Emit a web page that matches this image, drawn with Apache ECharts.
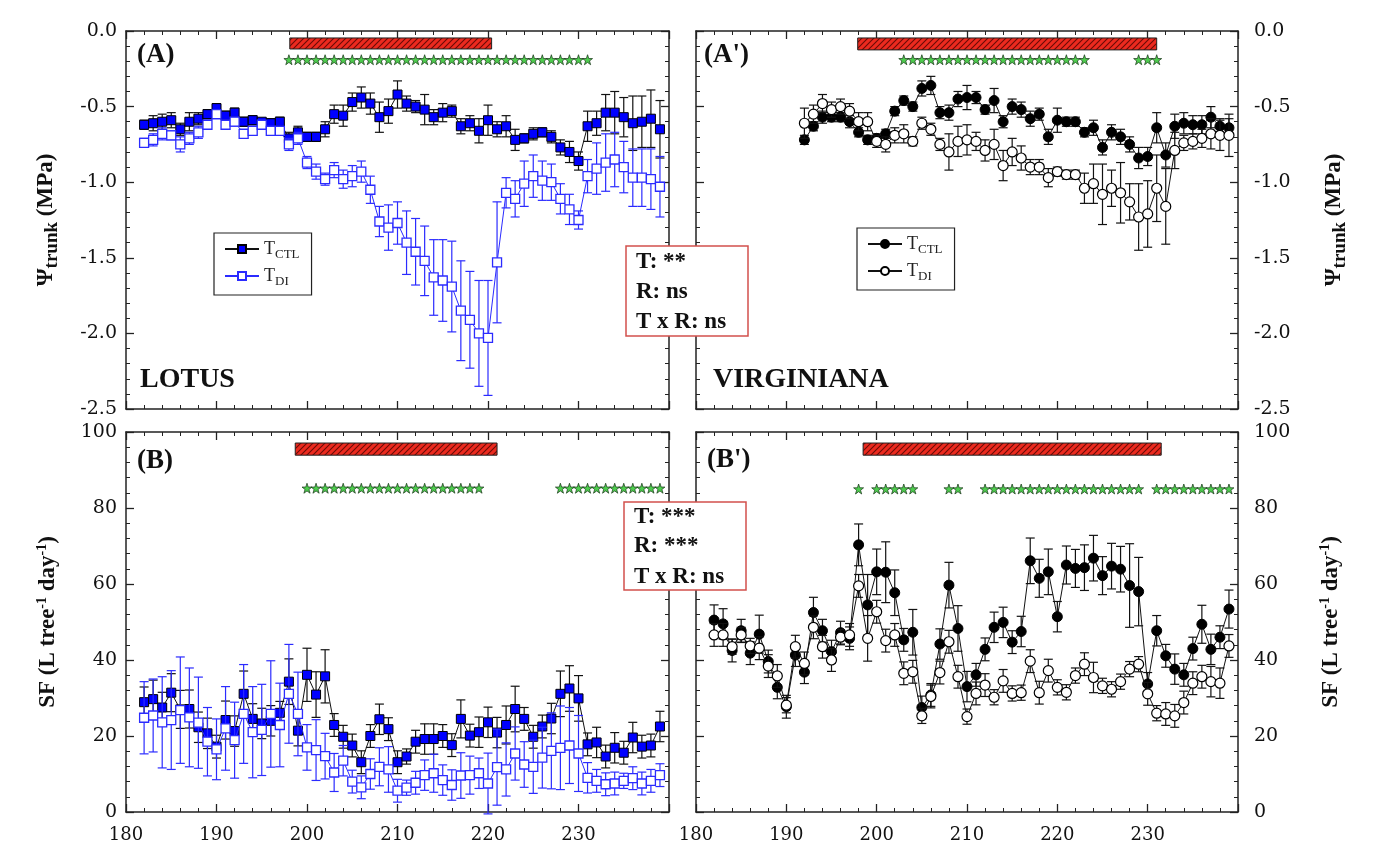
<!DOCTYPE html>
<html>
<head>
<meta charset="utf-8">
<title>Trunk water potential and sap flow - Lotus / Virginiana</title>
<script src="https://cdn.jsdelivr.net/npm/echarts/dist/echarts.min.js"></script>
<style>
  html, body { margin: 0; padding: 0; background: #fff; }
  #chart { width: 1400px; height: 855px; }
</style>
</head>
<body>
<div id="chart"></div>
<script>
// day of year
var daysAll = [182,183,184,185,186,187,188,189,190,191,192,193,194,195,196,197,198,199,200,201,
  202,203,204,205,206,207,208,209,210,211,212,213,214,215,216,217,218,219,220,221,
  222,223,224,225,226,227,228,229,230,231,232,233,234,235,236,237,238,239];
var daysVirgPsi = [192,193,194,195,196,197,198,199,200,201,202,203,204,205,206,207,208,209,210,211,
  212,213,214,215,216,217,218,219,220,221,222,223,224,225,226,227,228,229,230,231,
  232,233,234,235,236,237,238,239];

// (A) Lotus, trunk water potential (MPa)
var psiLotusCtl = [-0.62,-0.61,-0.60,-0.59,-0.65,-0.60,-0.58,-0.55,-0.51,-0.56,
  -0.54,-0.60,-0.59,-0.60,-0.61,-0.60,-0.71,-0.67,-0.70,-0.70,
  -0.65,-0.55,-0.56,-0.47,-0.44,-0.48,-0.57,-0.53,-0.42,-0.48,
  -0.50,-0.52,-0.57,-0.54,-0.53,-0.63,-0.61,-0.66,-0.59,-0.65,
  -0.63,-0.72,-0.71,-0.68,-0.67,-0.70,-0.77,-0.80,-0.86,-0.63,
  -0.61,-0.54,-0.54,-0.57,-0.61,-0.60,-0.58,-0.65];
var psiLotusCtlErr = [0.03,0.05,0.05,0.05,0.04,0.06,0.04,0.03,0.03,0.03,
  0.03,0.03,0.03,0.02,0.03,0.03,0.04,0.04,0.03,0.03,
  0.05,0.06,0.07,0.06,0.07,0.07,0.10,0.08,0.09,0.05,
  0.04,0.10,0.05,0.06,0.04,0.05,0.05,0.08,0.10,0.05,
  0.07,0.07,0.03,0.04,0.03,0.04,0.05,0.07,0.06,0.10,
  0.08,0.12,0.14,0.13,0.18,0.17,0.19,0.19];
var psiLotusDi = [-0.74,-0.72,-0.68,-0.69,-0.75,-0.71,-0.67,-0.62,-0.55,-0.62,
  -0.60,-0.68,-0.66,-0.62,-0.66,-0.66,-0.75,-0.71,-0.87,-0.93,
  -0.98,-0.92,-0.98,-0.96,-0.93,-1.05,-1.26,-1.30,-1.27,-1.40,
  -1.46,-1.52,-1.63,-1.65,-1.69,-1.85,-1.91,-2.00,-2.03,-1.53,
  -1.07,-1.11,-1.01,-0.96,-0.99,-1.00,-1.11,-1.18,-1.25,-0.96,
  -0.91,-0.87,-0.85,-0.90,-0.97,-0.97,-0.98,-1.03];
var psiLotusDiErr = [0.03,0.04,0.04,0.03,0.05,0.04,0.04,0.03,0.03,0.03,
  0.03,0.03,0.03,0.03,0.03,0.03,0.04,0.04,0.04,0.05,
  0.04,0.05,0.06,0.07,0.07,0.09,0.10,0.15,0.14,0.21,
  0.22,0.23,0.25,0.27,0.30,0.33,0.32,0.35,0.38,0.40,
  0.10,0.12,0.15,0.14,0.13,0.12,0.10,0.10,0.06,0.11,
  0.17,0.19,0.18,0.17,0.19,0.19,0.20,0.20];

// (A') Virginiana, trunk water potential (MPa)
var psiVirgCtl = [-0.72,-0.63,-0.57,-0.57,-0.57,-0.60,-0.67,-0.72,-0.71,-0.68,
  -0.53,-0.46,-0.50,-0.38,-0.36,-0.54,-0.54,-0.45,-0.44,-0.44,
  -0.52,-0.46,-0.60,-0.50,-0.52,-0.58,-0.55,-0.70,-0.59,-0.60,
  -0.60,-0.67,-0.64,-0.77,-0.67,-0.70,-0.75,-0.84,-0.83,-0.64,
  -0.82,-0.63,-0.61,-0.62,-0.62,-0.57,-0.63,-0.64];
var psiVirgCtlErr = [0.03,0.03,0.04,0.03,0.03,0.04,0.03,0.03,0.03,0.03,
  0.03,0.03,0.03,0.05,0.06,0.04,0.05,0.05,0.08,0.04,
  0.03,0.08,0.04,0.05,0.05,0.05,0.04,0.05,0.08,0.03,
  0.03,0.03,0.05,0.05,0.05,0.05,0.05,0.07,0.06,0.10,
  0.08,0.08,0.07,0.06,0.06,0.07,0.05,0.06];
var psiVirgDi = [-0.61,-0.55,-0.48,-0.52,-0.50,-0.53,-0.60,-0.60,-0.73,-0.75,
  -0.69,-0.68,-0.73,-0.61,-0.65,-0.75,-0.80,-0.73,-0.72,-0.73,
  -0.79,-0.75,-0.89,-0.80,-0.84,-0.90,-0.90,-0.97,-0.93,-0.95,
  -0.95,-1.04,-1.01,-1.08,-1.04,-1.07,-1.13,-1.23,-1.21,-1.04,
  -1.16,-0.79,-0.74,-0.73,-0.71,-0.68,-0.69,-0.69];
var psiVirgDiErr = [0.10,0.06,0.06,0.05,0.05,0.05,0.06,0.06,0.04,0.05,
  0.05,0.06,0.03,0.04,0.04,0.04,0.12,0.10,0.10,0.06,
  0.07,0.10,0.10,0.09,0.08,0.05,0.05,0.06,0.03,0.03,
  0.03,0.10,0.13,0.20,0.12,0.20,0.12,0.22,0.22,0.22,
  0.25,0.12,0.05,0.05,0.06,0.10,0.10,0.14];

// (B) Lotus, sap flow (L tree-1 day-1)
var sfLotusCtl = [28.9,29.7,27.5,31.4,27.0,27.1,22.3,20.7,17.2,24.2,
  21.3,31.1,24.5,23.3,24.0,26.1,34.3,21.4,36.1,30.9,
  35.7,22.9,19.8,17.5,13.1,20.0,24.4,21.8,13.1,14.6,
  18.5,19.2,19.2,20.0,17.6,24.5,20.1,21.0,23.6,20.9,
  22.9,27.1,24.5,19.8,22.5,24.6,31.1,32.5,29.9,17.8,
  18.3,14.6,16.9,15.6,19.6,17.2,17.5,22.5];
var sfLotusCtlErr = [4,5,4,5,5,5,4,4,3,5, 4,6,4,4,4,3,6,4,7,6, 7,3,3,3,3,3,4,3,3,2,
  3,4,4,3,3,5,3,4,4,4, 5,6,3,3,3,4,6,6,6,3, 4,3,4,3,4,3,3,4];
var sfLotusDi = [24.8,25.4,23.6,24.2,26.8,24.9,23.5,18.5,16.5,22.0,
  18.9,25.8,21.0,21.6,25.8,22.9,31.1,25.8,17.0,16.3,
  14.7,10.4,13.5,8.0,6.5,10.0,11.9,11.2,5.6,6.4,
  7.7,9.7,10.2,8.4,7.1,9.6,9.7,10.2,7.5,11.8,
  11.2,15.4,12.5,11.9,14.3,16.1,16.9,17.5,15.4,9.0,
  8.2,7.3,7.5,8.2,8.9,7.5,8.2,9.7];
var sfLotusDiErr = [9.5,9.6,12,13,14,13,12,9,8,11, 10,13,12,12,14,11,13,11,6,8, 6,5,4,3,3,4,5,6,3,2,
  3,4,5,4,4,6,5,4,8,10, 7,7,6,7,8,10,11,10,10,4, 3,3,3,2,3,3,3,3];

// (B') Virginiana, sap flow (L tree-1 day-1)
var sfVirgCtl = [50.5,49.5,42.5,47.7,41.8,46.8,39.6,32.8,27.7,41.3,
  36.8,52.5,47.7,42.2,47.2,45.7,70.3,54.5,63.2,63.1,
  57.7,45.3,47.3,27.5,30.8,44.2,59.7,48.3,33.0,36.1,
  42.8,48.6,49.9,44.7,47.5,66.1,61.5,63.2,51.4,65.0,
  64.1,64.3,66.8,62.2,64.7,63.9,59.6,58.0,33.7,47.7,
  41.1,37.6,36.1,43.0,49.4,42.8,46.0,53.4];
var sfVirgCtlErr = [4,4,3,3,3,5,3,3,3,3, 3,4,3,3,3,3,5.5,8,6,8, 6,3,6,3,3,4,6,6,4,3,
  3,4,4,3,4,6,5,6,4,5, 5,6,6,5,6,6,11,9,3,4, 3,4,3,3,5,4,3,5];
var sfVirgDi = [46.6,46.6,43.5,46.6,43.7,43.1,38.4,35.8,28.1,43.5,
  39.1,48.6,43.5,40.0,46.0,46.6,59.5,45.7,52.7,45.1,
  46.6,36.5,36.9,25.3,30.4,36.7,44.8,35.6,25.1,31.2,
  33.4,30.2,34.5,31.2,31.4,39.7,31.4,37.2,32.8,31.5,
  35.9,38.9,35.4,33.2,32.3,34.3,37.6,38.9,31.1,26.0,
  25.8,25.3,28.8,33.9,35.6,34.3,33.9,43.7];
var sfVirgDiErr = [3,3,2,2,2,3,3,3,2,3, 3,3,3,3,2,3,3,6,3,3, 3,3,3,2,3,3,3,3,2,3,
  3,2,3,2,2,3,3,3,2,2, 2,3,4,2,2,2,2,2,3,2, 3,3,3,3,3,4,4,3];

// days with significant difference (stars)
var starsPsiLotus = [198,199,200,201,202,203,204,205,206,207,208,209,210,211,212,213,214,215,216,217,
  218,219,220,221,222,223,224,225,226,227,228,229,230,231];
var starsPsiVirg = [203,204,205,206,207,208,209,210,211,212,213,214,215,216,217,218,219,220,221,222,223,
  229,230,231];
var starsSfLotus = [200,201,202,203,204,205,206,207,208,209,210,211,212,213,214,215,216,217,218,219,
  228,229,230,231,232,233,234,235,236,237,238,239];
var starsSfVirg = [198,200,201,202,203,204,208,209,212,213,214,215,216,217,218,219,220,221,222,223,
  224,225,226,227,228,229,231,232,233,234,235,236,237,238,239];

// deficit-irrigation period (start day, end day)
var droughtPsiLotus = [198.1, 220.4];
var droughtPsiVirg = [197.9, 231.0];
var droughtSfLotus = [198.7, 221.0];
var droughtSfVirg = [198.5, 231.5];

var SERIF = 'DejaVu Serif';
var BOLD = 'Liberation Serif';
var STAR = 'path://M10,0 L12.4,7.2 L20,7.3 L13.9,11.8 L16.2,19 L10,14.6 L3.8,19 L6.1,11.8 L0,7.3 L7.6,7.2 Z';

// hatch pattern for the red bars
var hatch = document.createElement('canvas');
hatch.width = 6; hatch.height = 6;
var hc = hatch.getContext('2d');
hc.fillStyle = '#ec2a1f'; hc.fillRect(0, 0, 6, 6);
hc.strokeStyle = '#6a0b07'; hc.lineWidth = 1.1;
hc.beginPath();
hc.moveTo(0, 6); hc.lineTo(6, 0);
hc.moveTo(-1, 1); hc.lineTo(1, -1);
hc.moveTo(5, 7); hc.lineTo(7, 5);
hc.stroke();

function pairs(days, vals) {
  return days.map(function (d, i) { return [d, vals[i]]; });
}
function ranges(days, vals, err) {
  return days.map(function (d, i) { return [d, vals[i] - err[i], vals[i] + err[i]]; });
}
function errRender(color) {
  return function (params, api) {
    var top = api.coord([api.value(0), api.value(2)]);
    var bot = api.coord([api.value(0), api.value(1)]);
    var w = 4.5;
    var st = { stroke: color, lineWidth: 1.2 };
    return {
      type: 'group',
      children: [
        { type: 'line', shape: { x1: top[0], y1: top[1], x2: bot[0], y2: bot[1] }, style: st },
        { type: 'line', shape: { x1: top[0] - w, y1: top[1], x2: top[0] + w, y2: top[1] }, style: st },
        { type: 'line', shape: { x1: bot[0] - w, y1: bot[1], x2: bot[0] + w, y2: bot[1] }, style: st }
      ]
    };
  };
}
function barRender(params, api) {
  var a = api.coord([api.value(0), api.value(3)]);
  var b = api.coord([api.value(1), api.value(2)]);
  return {
    type: 'rect',
    shape: { x: a[0], y: a[1], width: b[0] - a[0], height: b[1] - a[1] },
    style: { fill: { image: hatch, repeat: 'repeat' }, stroke: '#222', lineWidth: 1 }
  };
}

// axes: each grid gets bottom/top x and left/right y so the frame has ticks all round
function xAx(g, pos, labels) {
  return {
    type: 'value', gridIndex: g, position: pos, min: 180, max: 240, interval: 10,
    axisLine: { show: true, onZero: false, lineStyle: { color: '#222', width: 1.5 } },
    axisTick: { show: true, inside: true, length: 8, lineStyle: { color: '#222', width: 1.3 } },
    minorTick: { show: true, splitNumber: 5, length: 4, lineStyle: { color: '#222', width: 1 } },
    splitLine: { show: false },
    axisLabel: {
      show: labels, margin: 14, fontFamily: SERIF, fontSize: 18, color: '#111',
      formatter: function (v) { return v === 240 ? '' : String(v); }
    }
  };
}
var psiName = '{a|Ψ}{s|trunk}{a| (MPa)}';
var sfName = '{a|SF (L tree}{p|-1}{a| day}{p|-1}{a|)}';
var nameRich = {
  a: { fontFamily: BOLD, fontWeight: 'bold', fontSize: 23, color: '#111' },
  s: { fontFamily: BOLD, fontWeight: 'bold', fontSize: 19, color: '#111', padding: [13, 0, 0, 0] },
  p: { fontFamily: BOLD, fontWeight: 'bold', fontSize: 14, color: '#111', padding: [0, 0, 13, 0] }
};
function yAx(g, pos, psi, labels, name, gap) {
  var ax = {
    type: 'value', gridIndex: g, position: pos,
    min: psi ? -2.5 : 0, max: psi ? 0 : 100, interval: psi ? 0.5 : 20,
    axisLine: { show: true, onZero: false, lineStyle: { color: '#222', width: 1.5 } },
    axisTick: { show: true, inside: true, length: 8, lineStyle: { color: '#222', width: 1.3 } },
    minorTick: { show: true, splitNumber: 5, length: 4, lineStyle: { color: '#222', width: 1 } },
    splitLine: { show: false },
    axisLabel: {
      show: labels, margin: pos === 'left' ? 9 : 16, fontFamily: SERIF, fontSize: 19, color: '#111',
      formatter: psi ? function (v) { return v.toFixed(1); } : '{value}'
    }
  };
  if (name) {
    ax.name = name;
    ax.nameLocation = 'middle';
    ax.nameRotate = 90;
    ax.nameGap = gap;
    ax.nameTextStyle = { rich: nameRich };
  }
  return ax;
}

var ctlSquare = { symbol: 'rect', symbolSize: 9, itemStyle: { color: '#0000ff', borderColor: '#000', borderWidth: 1 }, lineStyle: { color: '#111', width: 1 } };
var diSquare = { symbol: 'rect', symbolSize: 9, itemStyle: { color: '#fff', borderColor: '#2b2bff', borderWidth: 1.3 }, lineStyle: { color: '#2b2bff', width: 1 } };
var ctlCircle = { symbol: 'circle', symbolSize: 10, itemStyle: { color: '#000', borderColor: '#000', borderWidth: 1 }, lineStyle: { color: '#111', width: 1 } };
var diCircle = { symbol: 'circle', symbolSize: 10, itemStyle: { color: '#fff', borderColor: '#000', borderWidth: 1.2 }, lineStyle: { color: '#111', width: 1 } };

function lineSeries(name, g, data, look, z) {
  return {
    name: name, type: 'line', xAxisIndex: 2 * g, yAxisIndex: 2 * g, data: data,
    symbol: look.symbol, symbolSize: look.symbolSize, showSymbol: true,
    itemStyle: look.itemStyle, lineStyle: look.lineStyle, z: z, animation: false
  };
}
function errSeries(g, data, color, z) {
  return {
    type: 'custom', xAxisIndex: 2 * g, yAxisIndex: 2 * g, data: data,
    renderItem: errRender(color), encode: { x: 0, y: [1, 2] }, z: z, silent: true, animation: false
  };
}
function starSeries(g, days, level) {
  return {
    type: 'scatter', xAxisIndex: 2 * g, yAxisIndex: 2 * g,
    data: days.map(function (d) { return [d, level]; }),
    symbol: STAR, symbolSize: 10,
    itemStyle: { color: '#22c022', borderColor: '#1a361a', borderWidth: 0.9 }, z: 6, silent: true, animation: false
  };
}
function droughtSeries(g, span, lo, hi) {
  return {
    type: 'custom', xAxisIndex: 2 * g, yAxisIndex: 2 * g,
    data: [[span[0], span[1], lo, hi]], renderItem: barRender,
    encode: { x: [0, 1], y: [2, 3] }, z: 6, silent: true, animation: false
  };
}

var series = [
  // (A)
  droughtSeries(0, droughtPsiLotus, -0.119, -0.046),
  starSeries(0, starsPsiLotus, -0.19),
  errSeries(0, ranges(daysAll, psiLotusCtl, psiLotusCtlErr), '#111', 2),
  lineSeries('A-CTL', 0, pairs(daysAll, psiLotusCtl), ctlSquare, 3),
  errSeries(0, ranges(daysAll, psiLotusDi, psiLotusDiErr), '#2b2bff', 4),
  lineSeries('A-DI', 0, pairs(daysAll, psiLotusDi), diSquare, 5),
  // (A')
  droughtSeries(1, droughtPsiVirg, -0.125, -0.046),
  starSeries(1, starsPsiVirg, -0.19),
  errSeries(1, ranges(daysVirgPsi, psiVirgCtl, psiVirgCtlErr), '#111', 2),
  lineSeries('Ap-CTL', 1, pairs(daysVirgPsi, psiVirgCtl), ctlCircle, 3),
  errSeries(1, ranges(daysVirgPsi, psiVirgDi, psiVirgDiErr), '#111', 4),
  lineSeries('Ap-DI', 1, pairs(daysVirgPsi, psiVirgDi), diCircle, 5),
  // (B)
  droughtSeries(2, droughtSfLotus, 93.9, 97.1),
  starSeries(2, starsSfLotus, 85.2),
  errSeries(2, ranges(daysAll, sfLotusCtl, sfLotusCtlErr), '#111', 2),
  lineSeries('B-CTL', 2, pairs(daysAll, sfLotusCtl), ctlSquare, 3),
  errSeries(2, ranges(daysAll, sfLotusDi, sfLotusDiErr), '#2b2bff', 4),
  lineSeries('B-DI', 2, pairs(daysAll, sfLotusDi), diSquare, 5),
  // (B')
  droughtSeries(3, droughtSfVirg, 93.9, 97.1),
  starSeries(3, starsSfVirg, 85.0),
  errSeries(3, ranges(daysAll, sfVirgCtl, sfVirgCtlErr), '#111', 2),
  lineSeries('Bp-CTL', 3, pairs(daysAll, sfVirgCtl), ctlCircle, 3),
  errSeries(3, ranges(daysAll, sfVirgDi, sfVirgDiErr), '#111', 4),
  lineSeries('Bp-DI', 3, pairs(daysAll, sfVirgDi), diCircle, 5)
];

function legendBox(left, top, names) {
  return {
    left: left, top: top, orient: 'vertical', data: names, selectedMode: false,
    backgroundColor: '#fff', borderColor: '#222', borderWidth: 1.2, borderRadius: 0,
    padding: [7, 12, 7, 10], itemGap: 6, itemWidth: 34, itemHeight: 10,
    formatter: function (n) {
      return '{t|T}{s|' + (n.indexOf('CTL') >= 0 ? 'CTL' : 'DI') + '}';
    },
    textStyle: {
      rich: {
        t: { fontFamily: 'Liberation Serif', fontSize: 18, color: '#222' },
        s: { fontFamily: 'Liberation Serif', fontSize: 13, color: '#222', padding: [11, 0, 0, 0] }
      }
    }
  };
}

function label(text, x, y, size) {
  return {
    type: 'text', left: x, top: y, z: 100,
    style: { text: text, font: 'bold ' + size + 'px "' + BOLD + '"', fill: '#111' }
  };
}
function statsBox(x, y, w, h, lines, lineY) {
  var kids = [{
    type: 'rect', z: 100, zlevel: 1, shape: { x: x, y: y, width: w, height: h },
    style: { fill: '#fff', stroke: '#d2504c', lineWidth: 1.5 }
  }];
  lines.forEach(function (t, i) {
    kids.push({
      type: 'text', z: 101, zlevel: 1, x: x + 10, y: y + lineY[i],
      style: { text: t, font: 'bold 23px "' + BOLD + '"', fill: '#111', verticalAlign: 'middle' }
    });
  });
  return kids;
}

var option = {
  animation: false,
  backgroundColor: '#fff',
  grid: [
    { left: 126, top: 31, width: 543, height: 378, outerBoundsMode: 'none' },
    { left: 696, top: 31, width: 542, height: 378, outerBoundsMode: 'none' },
    { left: 126, top: 432, width: 543, height: 380, outerBoundsMode: 'none' },
    { left: 696, top: 432, width: 542, height: 380, outerBoundsMode: 'none' }
  ],
  xAxis: [
    xAx(0, 'bottom', false), xAx(0, 'top', false),
    xAx(1, 'bottom', false), xAx(1, 'top', false),
    xAx(2, 'bottom', true), xAx(2, 'top', false),
    xAx(3, 'bottom', true), xAx(3, 'top', false)
  ],
  yAxis: [
    yAx(0, 'left', true, true, psiName, 64), yAx(0, 'right', true, false),
    yAx(1, 'right', true, true, psiName, 80), yAx(1, 'left', true, false),
    yAx(2, 'left', false, true, sfName, 64), yAx(2, 'right', false, false),
    yAx(3, 'right', false, true, sfName, 80), yAx(3, 'left', false, false)
  ],
  legend: [
    legendBox(214, 233, ['A-CTL', 'A-DI']),
    legendBox(857, 228, ['Ap-CTL', 'Ap-DI'])
  ],
  graphic: [
    label('(A)', 137, 42, 27),
    label("(A')", 704, 42, 27),
    label('(B)', 137, 448, 27),
    label("(B')", 707, 447, 27),
    label('LOTUS', 140, 366, 28),
    label('VIRGINIANA', 713, 366, 28)
  ].concat(
    statsBox(626, 246, 122, 90, ['T: **', 'R: ns', 'T x R: ns'], [16, 46, 76]),
    statsBox(624, 502, 122, 88, ['T: ***', 'R: ***', 'T x R: ns'], [15, 44, 75])
  ),
  series: series
};

var chart = echarts.init(document.getElementById('chart'), null, { renderer: 'canvas' });
chart.setOption(option);
</script>
</body>
</html>
